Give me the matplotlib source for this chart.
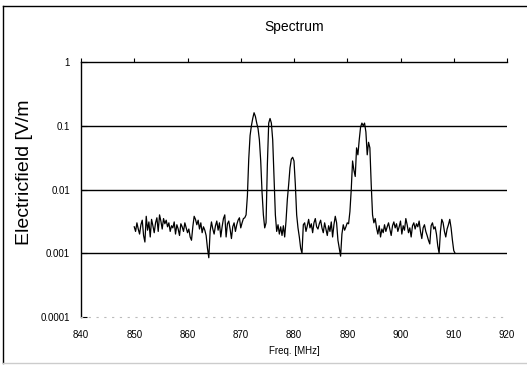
import numpy as np
import matplotlib
matplotlib.use('Agg')
import matplotlib.pyplot as plt
from matplotlib.lines import Line2D

plt.rcParams['font.family'] = ['Liberation Sans', 'DejaVu Sans']

# Spectrum samples, 0.25 MHz spacing starting at 850 MHz (one row per MHz)
freq_start = 850.0
freq_step = 0.25
efield = [
    0.0026, 0.0022, 0.0030, 0.0024,   # 850
    0.0020, 0.0028, 0.0033, 0.0019,   # 851
    0.0015, 0.0038, 0.0023, 0.0031,   # 852
    0.0018, 0.0034, 0.0027, 0.0021,   # 853
    0.0030, 0.0036, 0.0022, 0.0040,   # 854
    0.0032, 0.0024, 0.0035, 0.0029,   # 855
    0.0033, 0.0026, 0.0030, 0.0022,   # 856
    0.0027, 0.0025, 0.0031, 0.0020,   # 857
    0.0028, 0.0024, 0.0019, 0.0029,   # 858
    0.0026, 0.0022, 0.0030, 0.0025,   # 859
    0.0021, 0.0024, 0.0018, 0.0016,   # 860
    0.0026, 0.0038, 0.0034, 0.0028,   # 861
    0.0033, 0.0024, 0.0030, 0.0021,   # 862
    0.0026, 0.0023, 0.0019, 0.0012,   # 863
    0.00085, 0.0022, 0.0031, 0.0024,  # 864
    0.0020, 0.0027, 0.0032, 0.0023,   # 865
    0.0030, 0.0018, 0.0026, 0.0035,   # 866
    0.0040, 0.0018, 0.0029, 0.0032,   # 867
    0.0024, 0.0017, 0.0026, 0.0030,   # 868
    0.0022, 0.0028, 0.0033, 0.0036,   # 869
    0.0025, 0.0030, 0.0035, 0.0036,   # 870
    0.0040, 0.0080, 0.030, 0.070,     # 871
    0.10, 0.13, 0.16, 0.14,           # 872
    0.11, 0.090, 0.060, 0.028,        # 873
    0.009, 0.004, 0.0025, 0.0030,     # 874
    0.025, 0.11, 0.13, 0.11,          # 875
    0.060, 0.015, 0.004, 0.0022,      # 876
    0.0028, 0.0020, 0.0026, 0.0019,   # 877
    0.0027, 0.0018, 0.0032, 0.0070,   # 878
    0.012, 0.022, 0.030, 0.032,       # 879
    0.028, 0.012, 0.004, 0.0025,      # 880
    0.0018, 0.0012, 0.0010, 0.0028,   # 881
    0.0030, 0.0022, 0.0027, 0.0034,   # 882
    0.0025, 0.0029, 0.0021, 0.0030,   # 883
    0.0035, 0.0026, 0.0024, 0.0029,   # 884
    0.0033, 0.0025, 0.0021, 0.0030,   # 885
    0.0024, 0.0019, 0.0027, 0.0022,   # 886
    0.0031, 0.0018, 0.0028, 0.0038,   # 887
    0.0030, 0.0016, 0.0012, 0.00090,  # 888
    0.0020, 0.0028, 0.0023, 0.0026,   # 889
    0.0030, 0.0029, 0.0045, 0.010,    # 890
    0.028, 0.020, 0.016, 0.045,       # 891
    0.035, 0.060, 0.095, 0.11,        # 892
    0.10, 0.11, 0.080, 0.035,         # 893
    0.055, 0.045, 0.012, 0.004,       # 894
    0.0030, 0.0035, 0.0025, 0.0020,   # 895
    0.0027, 0.0018, 0.0024, 0.0021,   # 896
    0.0028, 0.0022, 0.0026, 0.0030,   # 897
    0.0024, 0.0019, 0.0027, 0.0031,   # 898
    0.0025, 0.0029, 0.0022, 0.0026,   # 899
    0.0032, 0.0020, 0.0027, 0.0023,   # 900
    0.0035, 0.0028, 0.0021, 0.0025,   # 901
    0.0018, 0.0027, 0.0030, 0.0024,   # 902
    0.0029, 0.0026, 0.0032, 0.0022,   # 903
    0.0017, 0.0025, 0.0028, 0.0022,   # 904
    0.0019, 0.0016, 0.0014, 0.0027,   # 905
    0.0030, 0.0024, 0.0026, 0.0020,   # 906
    0.0013, 0.0010, 0.0022, 0.0034,   # 907
    0.0030, 0.0022, 0.0018, 0.0024,   # 908
    0.0028, 0.0034, 0.0025, 0.0016,   # 909
    0.0011, 0.0010,                   # 910
]
freq = freq_start + freq_step * np.arange(len(efield))

x_ticks = [840, 850, 860, 870, 880, 890, 900, 910, 920]
y_ticks = [0.0001, 0.001, 0.01, 0.1, 1]
y_tick_labels = ['0.0001', '0.001', '0.01', '0.1', '1']
grid_vals = [0.001, 0.01, 0.1]

fig = plt.figure(figsize=(5.27, 3.66), dpi=100)
ax = fig.add_axes([81 / 527, 1 - 317 / 366, 426 / 527, 255 / 366])

for v in grid_vals:
    ax.axhline(v, color='black', linewidth=1.0, zorder=1)

ax.plot(freq, efield, color='black', linewidth=0.9, zorder=2)

ax.set_yscale('log')
ax.set_xlim(840, 920)
ax.set_ylim(0.0001, 1)
ax.set_xticks(x_ticks)
ax.set_yticks(y_ticks)
ax.set_yticklabels(y_tick_labels)
ax.minorticks_off()

ax.tick_params(axis='x', top=True, bottom=False, labeltop=False, labelbottom=True,
               direction='out', length=3, width=0.8, labelsize=7, pad=6)
ax.tick_params(axis='y', direction='in', length=4, width=0.8, labelsize=7, pad=8)

ax.spines['right'].set_visible(False)
ax.spines['top'].set_linewidth(1.0)
ax.spines['left'].set_linewidth(1.0)
ax.spines['bottom'].set_color('#bbbbbb')
ax.spines['bottom'].set_linestyle((0, (1, 6)))
ax.spines['bottom'].set_linewidth(0.8)

ax.set_title('Spectrum', fontsize=10, pad=22)
ax.set_xlabel('Freq. [MHz]', fontsize=7, labelpad=5)
fig.text(25 / 527, 1 - 172 / 366, 'Electricfield [V/m', fontsize=14,
         rotation=90, ha='center', va='center')

# outer chart border (left, top, bottom)
fig.add_artist(Line2D([3 / 527, 3 / 527], [1 - 6 / 366, 1 - 363 / 366], color='black', linewidth=1.0))
fig.add_artist(Line2D([3 / 527, 1.0], [1 - 6 / 366, 1 - 6 / 366], color='black', linewidth=1.0))
fig.add_artist(Line2D([3 / 527, 1.0], [1 - 363 / 366, 1 - 363 / 366], color='#cccccc', linewidth=1.0))

fig.savefig('out.png', dpi=100)
